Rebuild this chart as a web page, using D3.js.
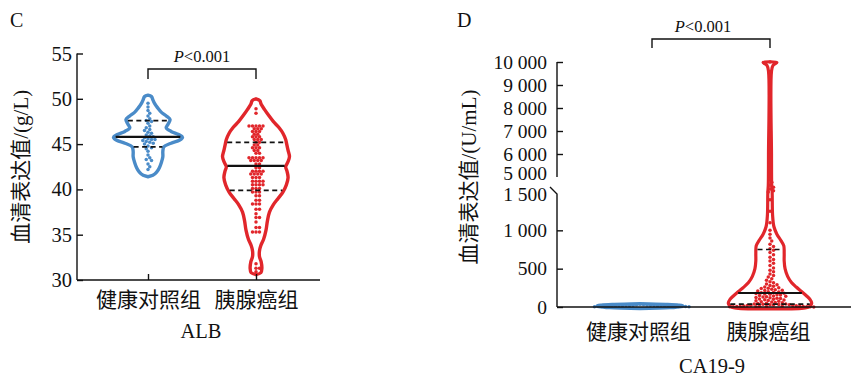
<!DOCTYPE html>
<html>
<head>
<meta charset="utf-8">
<script src="https://cdn.jsdelivr.net/npm/d3@7"></script>
<style>
  body { margin: 0; background: #fff; }
  svg { display: block; }
</style>
</head>
<body>
<svg id="chart" width="851" height="376"></svg>
<script>
// ---------- data ----------
const groups = ["健康对照组", "胰腺癌组"];

// ALB (g/L)
const albTicks = [30, 35, 40, 45, 50, 55];
const albHealthy = [49.5, 49.1, 48.7, 48.4, 48.1, 47.8, 47.6, 47.5, 47.3, 47.0, 46.8, 46.6, 46.5,
  46.3, 46.2, 46.0, 45.9, 45.8, 45.7, 45.6, 45.5, 45.5, 45.4, 45.3, 45.2, 45.1, 45.0, 44.8, 44.6,
  44.5, 44.2, 43.8, 43.5, 43.3, 43.2, 42.8, 42.5, 42.2];
const albCancer = [48.9, 48.4,
  47.0, 47.0, 47.0, 47.0, 47.0, 46.7, 46.7, 46.7, 46.4, 46.4, 46.4, 46.1, 46.1,
  45.8, 45.8, 45.8, 45.5, 45.5, 45.5, 45.2, 45.2, 44.9, 44.9, 44.6, 44.6, 44.6, 44.3, 44.3,
  44.0, 44.0, 43.5, 43.5, 43.5, 43.5, 43.5, 43.2, 43.2, 43.2, 43.2, 42.8, 42.8, 42.4, 42.4,
  42.0, 42.0, 42.0, 42.0, 41.7, 41.7, 41.7, 41.7, 41.3, 41.3, 41.3, 40.9, 40.9, 40.9, 40.9,
  40.5, 40.5, 40.5, 40.5, 40.1, 40.1, 40.1, 39.7, 39.7, 39.7, 39.3, 39.3, 38.8, 38.8,
  38.4, 38.4, 38.4, 37.8, 37.8, 37.3, 36.9, 36.9, 36.4, 35.8, 35.8, 35.3, 35.3, 35.3,
  31.8, 31.3, 31.3, 30.9];
const albMedian = [45.8, 42.6];
const albQ1 = [44.7, 39.9];
const albQ3 = [47.6, 45.2];
// violin outlines: [value, relative density]
const albHealthyShape = [[41.4, 0], [41.55, .14], [41.9, .25], [42.4, .33], [43.0, .39], [43.6, .43],
  [44.2, .43], [44.7, .46], [45.1, .67], [45.45, .92], [45.75, 1], [46.05, .89], [46.4, .67],
  [46.8, .53], [47.2, .58], [47.7, .64], [48.1, .53], [48.5, .39], [49.0, .28], [49.5, .19],
  [49.9, .14], [50.25, .1], [50.4, 0]];
const albCancerShape = [[30.6, 0], [30.8, .14], [31.3, .17], [32.0, .15], [32.6, .1], [33.2, .1],
  [33.8, .14], [34.5, .22], [35.5, .29], [36.5, .33], [37.5, .39], [38.3, .5], [39.0, .64],
  [39.7, .78], [40.5, .88], [41.3, .93], [42.0, .9], [42.5, .86], [43.0, .92], [43.6, .97],
  [44.3, .93], [45.0, .89], [45.5, .86], [46.2, .78], [46.8, .67], [47.5, .5], [48.2, .36],
  [48.8, .25], [49.4, .15], [49.8, .11], [50.0, 0]];

// CA19-9 (U/mL), broken axis
const caTicksLow = [0, 500, 1000, 1500];
const caTicksHigh = [5000, 6000, 7000, 8000, 9000, 10000];
const caHealthy = [3, 4, 5, 6, 7, 8, 8, 9, 10, 10, 11, 12, 12, 13, 14, 15, 15, 16, 17, 18, 19, 20,
  22, 24, 26, 28, 31, 35];
const caCancer = [10000, 9300, 8200, 7000, 6100, 5200, 4500, 3800, 3100, 2600, 2200, 1800, 1500,
  1400, 1250, 1100, 1000, 950, 900, 860, 820, 790, 760, 740, 710, 680, 650, 620, 600, 570, 540,
  510, 480, 460, 430, 410, 390, 370, 350, 330, 315, 300, 290, 280, 270, 260, 250, 245, 240, 230,
  225, 220, 215, 210, 200, 195, 190, 185, 180, 175, 170, 165, 160, 155, 150, 145, 140, 135, 130,
  125, 120, 115, 110, 105, 100, 95, 90, 85, 80, 75, 70, 65, 60, 55, 50, 45, 40, 38, 35, 32, 30,
  28, 25, 22, 20, 18, 15, 12, 10, 8, 6, 5, 4, 3, 2, 14, 9, 7, 4, 2, 1];
const caMedian = [14, 182];
const caQ1 = [8, 38];
const caQ3 = [20, 750];
const caHealthyShape = [[-20, 0], [-10, .7], [5, .95], [15, 1], [25, .9], [35, .6], [45, 0]];
const caCancerShape = [[-25, 0], [-12, .82], [10, .93], [50, .97], [100, .93], [150, .84],
  [200, .74], [260, .61], [320, .5], [400, .41], [500, .35], [600, .33], [700, .33], [800, .32],
  [870, .25], [950, .16], [1050, .09], [1200, .06], [1500, .05], [3000, .04], [6000, .035],
  [9600, .035], [9850, .07], [9980, .16], [10010, 0]];

// ---------- drawing ----------
const BLUE = "#4a8bc8";
const RED = "#e1262b";
const colors = [BLUE, RED];
const SERIF = "'Liberation Serif', 'Times New Roman', 'Noto Sans CJK SC', serif";
const CJK = "'Noto Sans CJK SC', sans-serif";

const svg = d3.select("#chart");

// simple beeswarm: places dots at their value, nudged sideways to avoid overlap
function swarm(values, y, r) {
  const pts = values.map(v => ({ v, y: y(v), x: 0 })).sort((a, b) => a.y - b.y);
  const placed = [];
  const d = 2 * r;
  for (const p of pts) {
    for (let k = 0; k < 400; k++) {
      const off = (k === 0 ? 0 : (k % 2 ? 1 : -1) * Math.ceil(k / 2)) * d * 0.5;
      const hit = placed.some(q => Math.abs(q.y - p.y) < d &&
        Math.hypot(q.x - off, q.y - p.y) < d * 0.9);
      if (!hit) { p.x = off; break; }
    }
    placed.push(p);
  }
  return pts;
}

function violin(g, cx, y, wScale, shape, color, sw) {
  const area = d3.area()
    .y(d => y(d[0]))
    .x0(d => cx - wScale(d[1]))
    .x1(d => cx + wScale(d[1]))
    .curve(d3.curveCatmullRom.alpha(0.5));
  g.append("path").datum(shape).attr("d", area)
    .attr("fill", "#fff").attr("stroke", color).attr("stroke-width", sw)
    .attr("stroke-linejoin", "round");
}

function statLines(g, cx, y, wScale, shape, med, q1, q3, inset) {
  const dens = d3.scaleLinear().domain(shape.map(d => d[0])).range(shape.map(d => d[1]));
  const half = v => Math.max(0, wScale(dens(v)) - inset);
  [[q1, "5,3.5", 1.7], [q3, "5,3.5", 1.7], [med, null, 2.1]].forEach(([v, dash, w]) => {
    g.append("line")
      .attr("x1", cx - half(v)).attr("x2", cx + half(v))
      .attr("y1", y(v)).attr("y2", y(v))
      .attr("stroke", "#111").attr("stroke-width", w)
      .attr("stroke-dasharray", dash);
  });
}

function dots(g, cx, y, values, color, r) {
  g.selectAll(null).data(swarm(values, y, r)).join("circle")
    .attr("cx", d => cx + d.x).attr("cy", d => d.y).attr("r", r)
    .attr("fill", color);
}

function bracket(g, x1, x2, yTop, yBot, size, cx, ty) {
  g.append("path")
    .attr("d", `M${x1},${yBot}V${yTop}H${x2}V${yBot}`)
    .attr("fill", "none").attr("stroke", "#111").attr("stroke-width", 1.4);
  const t = g.append("text").attr("x", cx).attr("y", ty)
    .attr("text-anchor", "middle").attr("font-family", SERIF).attr("font-size", size)
    .attr("fill", "#111");
  t.append("tspan").attr("font-style", "italic").text("P");
  t.append("tspan").text("<0.001");
}

function styleAxis(g, size, family) {
  g.select(".domain").remove();
  g.selectAll(".tick line").attr("stroke", "#111").attr("stroke-width", 1.4);
  g.selectAll(".tick text").attr("font-family", family).attr("font-size", size).attr("fill", "#111");
}

// ===== Panel C: ALB =====
{
  const g = svg.append("g");
  const y = d3.scaleLinear().domain([30, 55]).range([280, 53.5]);
  const x = d3.scalePoint().domain(groups).range([148, 256]);
  const w = d3.scaleLinear().domain([0, 1]).range([0, 34.5]);
  const axisX0 = 77, axisX1 = 320;

  g.append("text").attr("x", 10).attr("y", 27).text("C")
    .attr("font-family", SERIF).attr("font-size", 20).attr("fill", "#111");

  const shapes = [albHealthyShape, albCancerShape];
  const vals = [albHealthy, albCancer];
  groups.forEach((grp, i) => violin(g, x(grp), y, w, shapes[i], colors[i], 3.4));
  groups.forEach((grp, i) => dots(g, x(grp), y, vals[i], colors[i], 1.75));
  groups.forEach((grp, i) => statLines(g, x(grp), y, w, shapes[i], albMedian[i], albQ1[i], albQ3[i], 1.5));

  const ya = g.append("g").attr("transform", `translate(${axisX0},0)`)
    .call(d3.axisLeft(y).tickValues(albTicks).tickSizeInner(-6).tickSizeOuter(0).tickPadding(5));
  styleAxis(ya, 20.5, SERIF);
  g.append("line").attr("x1", axisX0).attr("x2", axisX0).attr("y1", y(55)).attr("y2", y(30))
    .attr("stroke", "#111").attr("stroke-width", 1.4);

  const xa = g.append("g").attr("transform", `translate(0,${y(30)})`)
    .call(d3.axisBottom(x).tickSizeInner(-6).tickSizeOuter(0).tickPadding(12));
  styleAxis(xa, 21, CJK);
  g.append("line").attr("x1", axisX0).attr("x2", axisX1).attr("y1", y(30)).attr("y2", y(30))
    .attr("stroke", "#111").attr("stroke-width", 1.4);

  g.append("text").attr("x", (x(groups[0]) + x(groups[1])) / 2 - 1).attr("y", 337.5)
    .attr("text-anchor", "middle").attr("font-family", SERIF).attr("font-size", 20.5)
    .attr("fill", "#111").text("ALB");

  g.append("text").attr("transform", `translate(28,${(y(30) + y(55)) / 2}) rotate(-90)`)
    .attr("text-anchor", "middle").attr("font-family", SERIF).attr("font-size", 21)
    .attr("fill", "#111").text("血清表达值/(g/L)");

  bracket(g, x(groups[0]), x(groups[1]), 69, 79, 16.5, (x(groups[0]) + x(groups[1])) / 2, 62);
}

// ===== Panel D: CA19-9 (broken y axis) =====
{
  const g = svg.append("g");
  const y = d3.scaleLinear().domain([0, 1500, 5000, 10000]).range([307, 192, 177, 62]);
  const x = d3.scalePoint().domain(groups).range([640, 770]);
  const w = d3.scaleLinear().domain([0, 1]).range([0, 43]);
  const fmt = d3.formatLocale({ decimal: ".", thousands: " ", grouping: [3], currency: ["", ""] }).format(",");
  const axisX0 = 557;

  g.append("text").attr("x", 457).attr("y", 27).text("D")
    .attr("font-family", SERIF).attr("font-size", 20).attr("fill", "#111");

  const shapes = [caHealthyShape, caCancerShape];
  const vals = [caHealthy, caCancer];
  groups.forEach((grp, i) => violin(g, x(grp), y, w, shapes[i], colors[i], 3.2));
  groups.forEach((grp, i) => dots(g, x(grp), y, vals[i], colors[i], 1.75));
  statLines(g, x(groups[1]), y, w, shapes[1], caMedian[1], caQ1[1], caQ3[1], 1.5);

  // lower segment
  const yLow = g.append("g").attr("transform", `translate(${axisX0},0)`)
    .call(d3.axisLeft(y).tickValues(caTicksLow).tickFormat(fmt).tickSizeInner(-6).tickSizeOuter(0).tickPadding(10));
  styleAxis(yLow, 19.5, SERIF);
  yLow.selectAll(".tick").filter(d => d === 1500).select("line").remove();
  yLow.selectAll(".tick").filter(d => d === 1500).select("text").attr("y", 2);
  // upper segment
  const yHigh = g.append("g").attr("transform", `translate(${axisX0},0)`)
    .call(d3.axisLeft(y).tickValues(caTicksHigh).tickFormat(fmt).tickSizeInner(-6).tickSizeOuter(0).tickPadding(10));
  styleAxis(yHigh, 19.5, SERIF);
  yHigh.selectAll(".tick").filter(d => d === 5000).select("line").remove();
  yHigh.selectAll(".tick").filter(d => d === 5000).select("text").attr("y", -4);

  g.append("path")
    .attr("d", `M${axisX0},${y(0)}V${y(1500) + 2}L${axisX0 - 7},${y(1500) - 5}`)
    .attr("fill", "none").attr("stroke", "#111").attr("stroke-width", 1.4);
  g.append("line").attr("x1", axisX0).attr("x2", axisX0).attr("y1", y(10000)).attr("y2", y(5000))
    .attr("stroke", "#111").attr("stroke-width", 1.4);

  const xa = g.append("g").attr("transform", `translate(0,${y(0)})`)
    .call(d3.axisBottom(x).tickSize(0).tickPadding(17));
  styleAxis(xa, 21, CJK);
  xa.selectAll(".tick text").attr("dx", -2);
  g.append("line").attr("x1", axisX0).attr("x2", 851).attr("y1", y(0)).attr("y2", y(0))
    .attr("stroke", "#111").attr("stroke-width", 1.4);

  g.append("text").attr("x", 712).attr("y", 373)
    .attr("text-anchor", "middle").attr("font-family", SERIF).attr("font-size", 20.5)
    .attr("fill", "#111").text("CA19-9");

  g.append("text").attr("transform", `translate(476,177) rotate(-90)`)
    .attr("text-anchor", "middle").attr("font-family", SERIF).attr("font-size", 21)
    .attr("fill", "#111").text("血清表达值/(U/mL)");

  bracket(g, x(groups[0]) + 12, x(groups[1]), 39, 48, 16.5, 703, 31.5);
}
</script>
</body>
</html>
